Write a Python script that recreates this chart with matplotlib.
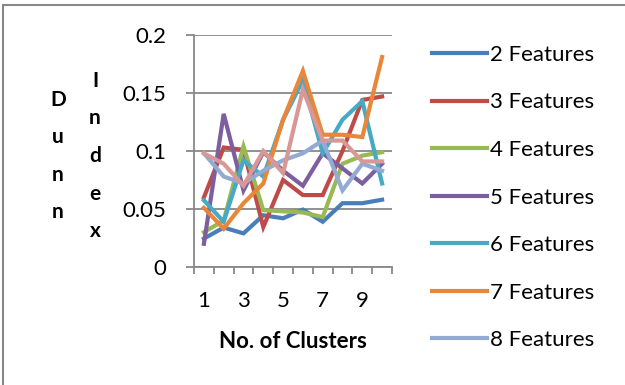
import numpy as np
import matplotlib.pyplot as plt
from matplotlib.patches import Rectangle
from matplotlib.ticker import FuncFormatter, MultipleLocator, FixedLocator

plt.rcParams['font.family'] = ['Lato', 'DejaVu Sans']

# Number of clusters on the x axis
clusters = [1, 2, 3, 4, 5, 6, 7, 8, 9, 10]

# Dunn index for each feature count
f2 = [0.0245, 0.034, 0.029, 0.0446, 0.042, 0.0495, 0.039, 0.055, 0.055, 0.058]
f3 = [0.060, 0.103, 0.101, 0.0345, 0.075, 0.062, 0.062, 0.100, 0.144, 0.147]
f4 = [0.030, 0.040, 0.104, 0.049, 0.048, 0.047, 0.043, 0.089, 0.096, 0.099]
f5 = [0.020, 0.132, 0.066, 0.099, 0.083, 0.070, 0.098, 0.085, 0.072, 0.089]
f6 = [0.0575, 0.039, 0.092, 0.078, 0.127, 0.161, 0.098, 0.127, 0.143, 0.072]
f7 = [0.051, 0.033, 0.055, 0.072, 0.127, 0.169, 0.114, 0.114, 0.112, 0.181]
f8 = [0.098, 0.078, 0.072, 0.083, 0.092, 0.098, 0.109, 0.066, 0.089, 0.083]
f9 = [0.098, 0.089, 0.070, 0.100, 0.081, 0.153, 0.109, 0.109, 0.091, 0.091]

series = [f2, f3, f4, f5, f6, f7, f8, f9]
labels = ['2 Features', '3 Features', '4 Features', '5 Features',
          '6 Features', '7 Features', '8 Features', '9 Features']
colors = ['#4A7EBB', '#BE4B48', '#98B954', '#7D5FA0',
          '#46AAC5', '#E8873A', '#93ABD3', '#D99795']

fs = 16

fig = plt.figure(figsize=(6.25, 3.85), dpi=100)
ax = fig.add_axes([194 / 625, 1 - 267 / 385, 198 / 625, 232 / 385])

handles = []
for vals, lab, col in zip(series, labels, colors):
    ln, = ax.plot(clusters, vals, color=col, lw=3.0, solid_joinstyle='miter', label=lab)
    handles.append(ln)

ax.set_xlim(0.5, 10.5)
ax.set_ylim(0, 0.2)

grid_col = '#888888'
ax.yaxis.set_major_locator(MultipleLocator(0.05))
ax.yaxis.set_major_formatter(FuncFormatter(lambda v, p: '%g' % round(v, 3)))
ax.grid(axis='y', color=grid_col, lw=1.3)
ax.set_axisbelow(True)

# ticks between categories, labels on odd categories only
ax.xaxis.set_major_locator(FixedLocator(np.arange(0.5, 11, 1)))
ax.xaxis.set_major_formatter(FuncFormatter(lambda v, p: ''))
ax.xaxis.set_minor_locator(FixedLocator([1, 3, 5, 7, 9]))
ax.xaxis.set_minor_formatter(FuncFormatter(lambda v, p: '%d' % v))
ax.tick_params(axis='x', which='major', direction='out', length=5, width=1.3, color=grid_col)
ax.tick_params(axis='x', which='minor', length=0, pad=17, labelsize=fs)
ax.tick_params(axis='y', direction='out', length=6, width=1.3, color=grid_col, labelsize=fs, pad=14)

for s in ['top', 'right']:
    ax.spines[s].set_visible(False)
for s in ['left', 'bottom']:
    ax.spines[s].set_color(grid_col)
    ax.spines[s].set_linewidth(1.3)

fig.text(293 / 625, 1 - 341 / 385, 'No. of Clusters', ha='center', va='center',
         fontsize=fs, fontweight='bold')
fig.text(58 / 625, 1 - 156 / 385, 'D\nu\nn\nn', ha='center', va='center',
         fontsize=15, fontweight='bold', linespacing=2.1)
fig.text(95 / 625, 1 - 156 / 385, 'I\nn\nd\ne\nx', ha='center', va='center',
         fontsize=15, fontweight='bold', linespacing=2.1)

fig.legend(handles=handles[:7], loc='upper left', bbox_to_anchor=(423 / 625, 1 - 36 / 385),
           frameon=False, fontsize=fs, handlelength=2.5, handletextpad=0.1,
           labelspacing=1.24, borderaxespad=0)

fig.patches.append(Rectangle((3 / 625, -0.1), 1.2, 1.1 - 5 / 385,
                             transform=fig.transFigure, fill=False,
                             edgecolor=grid_col, lw=1.5))

fig.savefig('out.png', dpi=100)
